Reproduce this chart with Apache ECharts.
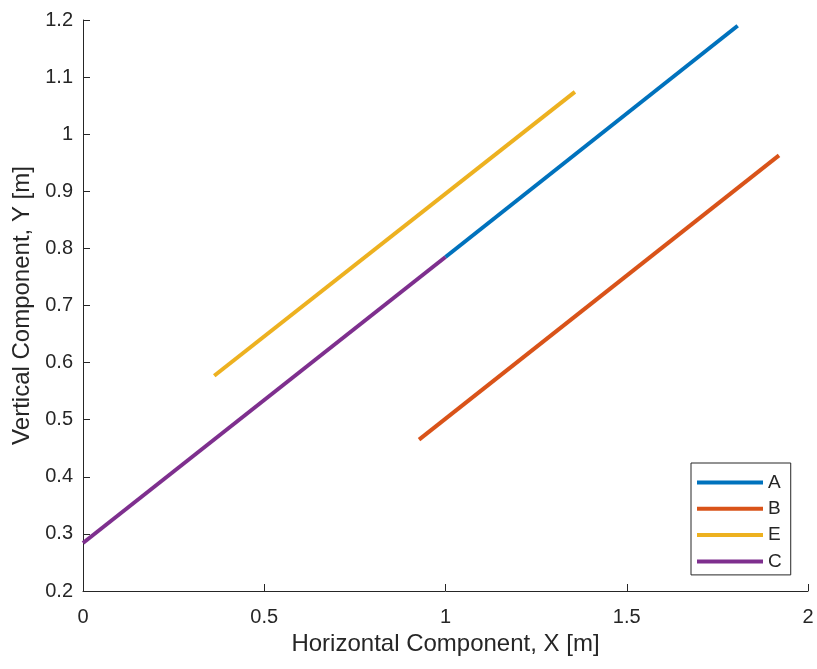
<!DOCTYPE html>
<html>
<head>
<meta charset="utf-8">
<script src="https://cdn.jsdelivr.net/npm/echarts@6/dist/echarts.min.js"></script>
<style>html,body{margin:0;padding:0;background:#fff}#c{width:817px;height:669px}</style>
</head>
<body>
<div id="c"></div>
<script>
const seriesNames = ['A', 'B', 'E', 'C'];
const seriesColors = ['#0072BD', '#D95319', '#EDB120', '#7E2F8E'];
const dataA = [[1.0, 0.785], [1.806, 1.19]];
const dataB = [[0.927, 0.465], [1.92, 0.963]];
const dataE = [[0.362, 0.577], [1.357, 1.074]];
const dataC = [[0.0, 0.284], [1.0, 0.785]];
const xTicks = [0, 0.5, 1, 1.5, 2];
const yTicks = [0.2, 0.3, 0.4, 0.5, 0.6, 0.7, 0.8, 0.9, 1, 1.1, 1.2];
const allData = [dataA, dataB, dataE, dataC];

const txt = '#262626';
const font = 'Liberation Sans, Arial, Helvetica, sans-serif';
const chart = echarts.init(document.getElementById('c'));
chart.setOption({
  backgroundColor: '#fff',
  animation: false,
  textStyle: {fontFamily: font, color: txt},
  grid: {left: 83, right: 9, top: 20, bottom: 78, containLabel: false},
  xAxis: {
    type: 'value', min: xTicks[0], max: xTicks[xTicks.length - 1], interval: 0.5,
    name: 'Horizontal Component, X [m]', nameLocation: 'middle', nameGap: 41,
    nameTextStyle: {fontSize: 24, color: txt, fontFamily: font},
    axisLine: {show: true, lineStyle: {color: txt, width: 1}},
    axisTick: {show: true, inside: true, length: 7, lineStyle: {color: txt}},
    axisLabel: {fontSize: 20, color: txt, fontFamily: font, margin: 16,
      formatter: v => String(parseFloat(v.toFixed(2)))},
    splitLine: {show: false}
  },
  yAxis: {
    type: 'value', min: yTicks[0], max: yTicks[yTicks.length - 1], interval: 0.1,
    name: 'Vertical Component, Y [m]', nameLocation: 'middle', nameGap: 46,
    nameTextStyle: {fontSize: 24, color: txt, fontFamily: font},
    axisLine: {show: true, lineStyle: {color: txt, width: 1}},
    axisTick: {show: true, inside: true, length: 7, lineStyle: {color: txt}},
    axisLabel: {fontSize: 20, color: txt, fontFamily: font, margin: 10,
      formatter: v => String(parseFloat(v.toFixed(2)))},
    splitLine: {show: false}
  },
  legend: {
    orient: 'vertical', left: 691, top: 463, width: 98,
    data: seriesNames.map(n => ({name: n, icon: 'rect'})),
    itemWidth: 66, itemHeight: 4, itemGap: 7.3,
    padding: [10, 9, 4, 6],
    backgroundColor: '#fff', borderColor: txt, borderWidth: 1, borderRadius: 0,
    textStyle: {fontSize: 19, color: txt, fontFamily: font, padding: [0, 0, 0, 0]},
    selectedMode: false
  },
  series: seriesNames.map((n, i) => ({
    name: n, type: 'line', data: allData[i], showSymbol: false, symbol: 'none',
    color: seriesColors[i],
    lineStyle: {width: 4, color: seriesColors[i], cap: 'butt'},
    itemStyle: {color: seriesColors[i]},
    z: 2 + i
  }))
});
</script>
</body>
</html>
